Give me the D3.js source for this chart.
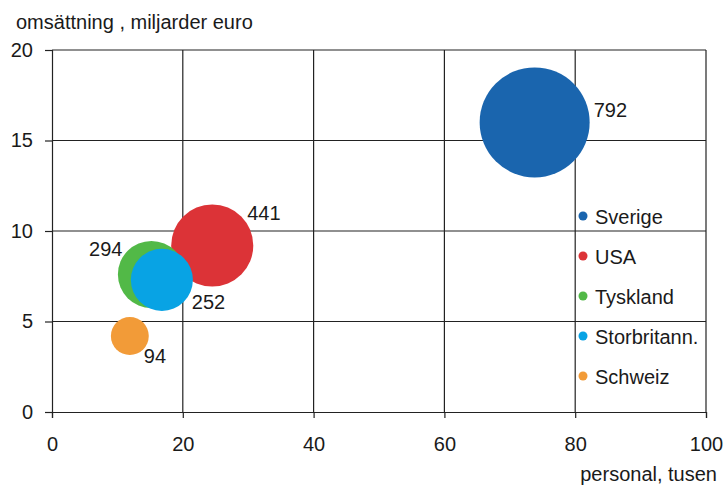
<!DOCTYPE html>
<html>
<head>
<meta charset="utf-8">
<script src="https://cdn.jsdelivr.net/npm/d3@7"></script>
<style>
  body { margin: 0; background: #fff; }
  text { font-family: "Liberation Sans", Arial, sans-serif; font-size: 20px; fill: #1a1a1a; }
</style>
</head>
<body>
<div id="chart"></div>
<script>
// data
var countries = ["Sverige", "USA", "Tyskland", "Storbritann.", "Schweiz"];
var personal = [73.8, 24.5, 15.2, 16.8, 11.9];   // x, tusen
var omsattning = [16.0, 9.2, 7.6, 7.3, 4.2];     // y, miljarder euro
var bubbleSize = [792, 441, 294, 252, 94];
var xTicks = [0, 20, 40, 60, 80, 100];
var yTicks = [0, 5, 10, 15, 20];

var colors = ["#1a65ae", "#dc3337", "#52b947", "#08a3e4", "#f29b38"];

// label placement relative to bubble centre
var labelPos = [
  { dx: 59, dy: -5, anchor: "start" },
  { dx: 35, dy: -25, anchor: "start" },
  { dx: -29, dy: -18, anchor: "end" },
  { dx: 30, dy: 29, anchor: "start" },
  { dx: 14, dy: 27, anchor: "start" }
];

var svgWidth = 723;
var svgHeight = 485;

var margin = { top: 50, right: 17, bottom: 73, left: 52 };
var width = svgWidth - margin.left - margin.right;
var height = svgHeight - margin.top - margin.bottom;

var svg = d3.select("#chart")
  .append("svg")
  .attr("width", svgWidth)
  .attr("height", svgHeight);

var chartGroup = svg.append("g")
  .attr("transform", `translate(${margin.left}, ${margin.top})`);

var xScale = d3.scaleLinear().domain([0, 100]).range([0, width]);
var yScale = d3.scaleLinear().domain([0, 20]).range([height, 0]);
var rScale = d3.scaleSqrt().domain([0, 792]).range([0, 55]);

// grid
chartGroup.append("g")
  .selectAll("line")
  .data(xTicks.slice(1))
  .enter()
  .append("line")
  .attr("x1", d => xScale(d))
  .attr("x2", d => xScale(d))
  .attr("y1", 0)
  .attr("y2", height)
  .attr("stroke", "#222")
  .attr("stroke-width", 1.2);

chartGroup.append("g")
  .selectAll("line")
  .data(yTicks.slice(1))
  .enter()
  .append("line")
  .attr("x1", 0)
  .attr("x2", width)
  .attr("y1", d => yScale(d))
  .attr("y2", d => yScale(d))
  .attr("stroke", "#222")
  .attr("stroke-width", 1.2);

// axes
var bottomAxis = d3.axisBottom(xScale).tickValues(xTicks).tickSize(6).tickPadding(19);
var leftAxis = d3.axisLeft(yScale).tickValues(yTicks).tickSize(7).tickPadding(12);

var xAxis = chartGroup.append("g")
  .attr("transform", `translate(0, ${height})`)
  .call(bottomAxis);

var yAxis = chartGroup.append("g")
  .call(leftAxis);

[xAxis, yAxis].forEach(function(ax) {
  ax.select(".domain").attr("stroke", "#222").attr("stroke-width", 1.2);
  ax.selectAll(".tick line").attr("stroke", "#222").attr("stroke-width", 1.2);
  ax.selectAll("text")
    .attr("font-family", "Liberation Sans, Arial, sans-serif")
    .attr("font-size", 20)
    .attr("fill", "#1a1a1a");
});

// bubbles
var points = countries.map(function(c, i) {
  return { name: c, x: personal[i], y: omsattning[i], size: bubbleSize[i], color: colors[i], lab: labelPos[i] };
});

chartGroup.selectAll("circle.bubble")
  .data(points)
  .enter()
  .append("circle")
  .attr("class", "bubble")
  .attr("cx", d => xScale(d.x))
  .attr("cy", d => yScale(d.y))
  .attr("r", d => rScale(d.size))
  .attr("fill", d => d.color);

chartGroup.selectAll("text.val")
  .data(points)
  .enter()
  .append("text")
  .attr("class", "val")
  .attr("x", d => xScale(d.x) + d.lab.dx)
  .attr("y", d => yScale(d.y) + d.lab.dy)
  .attr("text-anchor", d => d.lab.anchor)
  .text(d => d.size);

// legend
var legend = svg.append("g")
  .attr("transform", "translate(583, 216)");

var items = legend.selectAll("g")
  .data(points)
  .enter()
  .append("g")
  .attr("transform", (d, i) => `translate(0, ${i * 40})`);

items.append("circle")
  .attr("r", 4.5)
  .attr("fill", d => d.color);

items.append("text")
  .attr("x", 12)
  .attr("y", 8)
  .text(d => d.name);

// axis titles
svg.append("text")
  .attr("x", 16)
  .attr("y", 29)
  .text("omsättning , miljarder euro");

svg.append("text")
  .attr("x", 717)
  .attr("y", 481)
  .attr("text-anchor", "end")
  .text("personal, tusen");
</script>
</body>
</html>
